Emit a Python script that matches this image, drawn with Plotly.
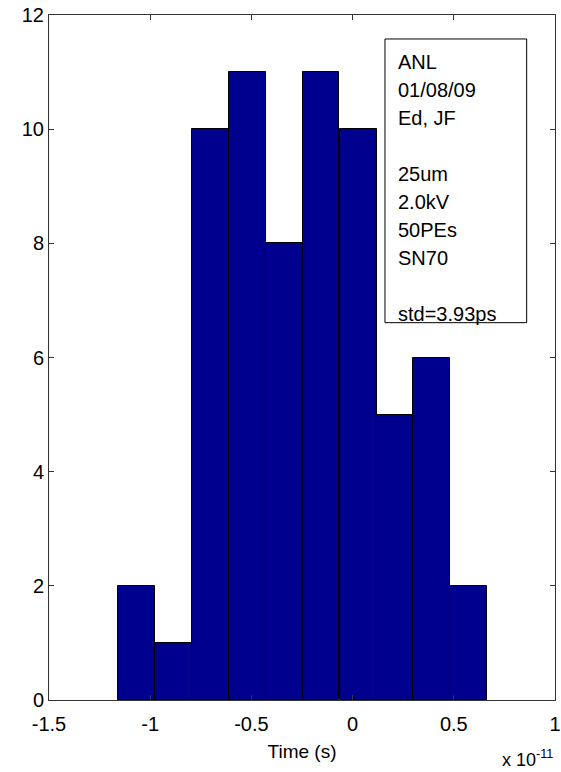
import plotly.graph_objects as go

# Histogram data (time in units of 1e-11 s)
bin_centers = [-1.068, -0.886, -0.703, -0.521, -0.338, -0.156, 0.027, 0.209, 0.392, 0.574]
counts = [2, 1, 10, 11, 8, 11, 10, 5, 6, 2]
bin_width = 0.1825

x_tickvals = [-1.5, -1.0, -0.5, 0.0, 0.5, 1.0]
x_ticktext = ["-1.5", "-1", "-0.5", "0", "0.5", "1"]
y_tickvals = [0, 2, 4, 6, 8, 10, 12]
y_ticktext = ["0", "2", "4", "6", "8", "10", "12"]

info_lines = ["ANL", "01/08/09", "Ed, JF", "", "25um", "2.0kV", "50PEs", "SN70", "", "std=3.93ps"]

FONT = "Liberation Sans, Arial, Helvetica, sans-serif"
W, H = 561, 772
L, R, T, B = 49, 6, 15, 72
PH = H - T - B

fig = go.Figure()
fig.add_trace(go.Bar(
    x=bin_centers, y=counts, width=bin_width,
    marker=dict(color="#00008F", line=dict(color="black", width=1)),
    showlegend=False,
))

def py(ypx):
    return (H - B - ypx) / PH

# text box
fig.add_shape(type="rect", xref="x", yref="y",
              x0=0.160, x1=0.860, y0=6.61, y1=11.58,
              line=dict(color="black", width=1), fillcolor="white", layer="above")
for i, line in enumerate(info_lines):
    if not line:
        continue
    fig.add_annotation(text=line, xref="x", yref="paper",
                       x=0.2135, y=py(62.5 + i * 27.9),
                       xanchor="left", yanchor="middle", showarrow=False,
                       font=dict(family=FONT, size=20, color="black"))

fig.add_annotation(text="x 10<sup>-11</sup>", xref="paper", yref="paper",
                   x=(555 - L) / (W - L - R), y=py(758), xanchor="right", yanchor="middle",
                   showarrow=False, font=dict(family=FONT, size=18, color="black"))

axis_common = dict(
    showline=True, linecolor="#333333", linewidth=1, mirror="ticks",
    ticks="inside", ticklen=5, tickcolor="#333333", showgrid=False, zeroline=False,
    tickfont=dict(family=FONT, size=20, color="black"), automargin=False,
)
fig.update_xaxes(range=[-1.5, 1.0], tickvals=x_tickvals, ticktext=x_ticktext,
                 ticklabelstandoff=6,
                 title=dict(text="Time (s)", font=dict(family=FONT, size=19, color="black"), standoff=10),
                 **axis_common)
fig.update_yaxes(range=[0, 12], tickvals=y_tickvals, ticktext=y_ticktext, **axis_common)

fig.update_layout(
    width=W, height=H,
    margin=dict(l=L, r=R, t=T, b=B),
    paper_bgcolor="white", plot_bgcolor="white",
    bargap=0,
)
fig.write_html("out.html")
